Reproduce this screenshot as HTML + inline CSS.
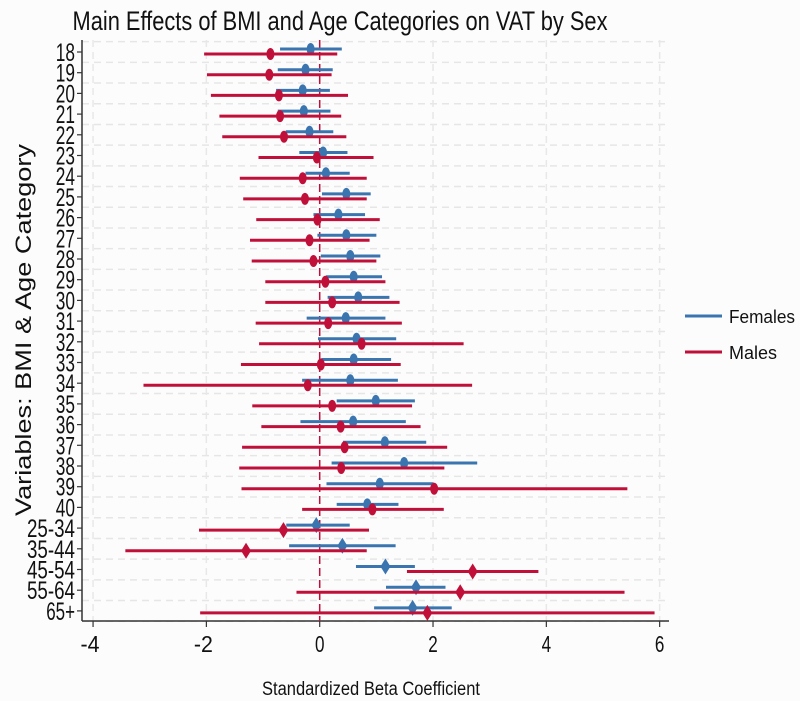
<!DOCTYPE html>
<html><head><meta charset="utf-8"><style>
body{margin:0;background:#fcfcfc;}
svg{display:block;font-family:"Liberation Sans",sans-serif;}
</style></head><body>
<svg id="chart" width="800" height="701" viewBox="0 0 800 701">
<rect x="0" y="0" width="800" height="701" fill="#fcfcfc"/>
<text x="340" y="30" font-size="27" text-anchor="middle" textLength="535" lengthAdjust="spacingAndGlyphs" fill="#111">Main Effects of BMI and Age Categories on VAT by Sex</text>
<text transform="translate(31,330) rotate(-90)" font-size="22" text-anchor="middle" textLength="372" lengthAdjust="spacingAndGlyphs" fill="#111">Variables: BMI &amp; Age Category</text>
<text x="371" y="695" font-size="19" text-anchor="middle" textLength="218" lengthAdjust="spacingAndGlyphs" fill="#111">Standardized Beta Coefficient</text>
<g id="grid"></g><g id="axes"></g><g id="marks"></g>
<g>
<line x1="685" y1="316" x2="722" y2="316" stroke="#3a75b0" stroke-width="3"/>
<text x="729" y="323" font-size="18" textLength="66" lengthAdjust="spacingAndGlyphs" fill="#111">Females</text>
<line x1="685" y1="352" x2="722" y2="352" stroke="#c0103a" stroke-width="3"/>
<text x="729" y="359" font-size="18" textLength="48" lengthAdjust="spacingAndGlyphs" fill="#111">Males</text>
</g>
</svg>
<script>
const categories = ["18","19","20","21","22","23","24","25","26","27","28","29","30","31","32","33","34","35","36","37","38","39","40","25-34","35-44","45-54","55-64","65+"];
const femaleEst = [-0.16,-0.25,-0.30,-0.28,-0.18,0.06,0.11,0.47,0.33,0.47,0.54,0.60,0.68,0.46,0.65,0.60,0.54,0.99,0.59,1.15,1.49,1.06,0.84,-0.06,0.40,1.16,1.70,1.64];
const femaleLo = [-0.70,-0.74,-0.77,-0.74,-0.60,-0.36,-0.25,0.04,-0.11,-0.04,0.02,0.11,0.14,-0.23,-0.03,0.03,-0.31,0.30,-0.34,0.41,0.21,0.12,0.30,-0.59,-0.54,0.64,1.17,0.96];
const femaleHi = [0.39,0.23,0.18,0.19,0.24,0.49,0.53,0.90,0.80,1.00,1.07,1.10,1.23,1.16,1.35,1.26,1.38,1.68,1.52,1.88,2.78,2.01,1.39,0.53,1.34,1.68,2.22,2.33];
const maleEst = [-0.87,-0.89,-0.72,-0.70,-0.63,-0.05,-0.30,-0.26,-0.04,-0.18,-0.11,0.10,0.22,0.15,0.74,0.02,-0.21,0.22,0.37,0.44,0.38,2.02,0.93,-0.64,-1.30,2.70,2.48,1.90];
const maleLo = [-2.04,-1.99,-1.92,-1.77,-1.72,-1.08,-1.41,-1.35,-1.12,-1.23,-1.20,-0.96,-0.96,-1.13,-1.07,-1.39,-3.11,-1.19,-1.03,-1.37,-1.42,-1.38,-0.31,-2.13,-3.43,1.54,-0.41,-2.11];
const maleHi = [0.31,0.21,0.50,0.38,0.47,0.95,0.83,0.83,1.06,0.88,1.00,1.16,1.41,1.45,2.54,1.43,2.69,1.63,1.78,2.25,2.20,5.43,2.19,0.87,0.83,3.86,5.38,5.91];
const isAge = [0,0,0,0,0,0,0,0,0,0,0,0,0,0,0,0,0,0,0,0,0,0,0,1,1,1,1,1];
const xTicks = [-4,-2,0,2,4,6];

const NS="http://www.w3.org/2000/svg";
const X0=319.7, UNIT=56.66, Y0=52, ROW=20.7;
const xs=v=>X0+v*UNIT;
const ys=i=>Y0+i*ROW;
const BLUE="#3a75b0", RED="#c0103a";
function mk(tag,attrs,parent){const e=document.createElementNS(NS,tag);for(const k in attrs)e.setAttribute(k,attrs[k]);parent.appendChild(e);return e;}
const gGrid=document.getElementById('grid'),gAxes=document.getElementById('axes'),gMarks=document.getElementById('marks');
const pTop=40,pBottom=621,pLeft=82,pRight=669;
for(let i=0;i<=categories.length;i++){
  const y=ys(i)-ROW/2;
  const l=mk('line',{x1:pLeft,x2:pRight,y1:y,y2:y,stroke:"#e6e6e6","stroke-width":1.5,"stroke-dasharray":"7,5"},gGrid);
  
  
}
xTicks.forEach(t=>{
  const l=mk('line',{x1:xs(t),x2:xs(t),y1:pTop,y2:pBottom,stroke:"#e8e8e8","stroke-width":1.5,"stroke-dasharray":"7,5"},gGrid);
  
  
});
let ax=mk('line',{x1:pLeft,x2:pLeft,y1:pTop,y2:pBottom,stroke:"#333","stroke-width":1.5},gAxes);


ax=mk('line',{x1:pLeft,x2:pRight,y1:pBottom,y2:pBottom,stroke:"#333","stroke-width":1.5},gAxes);


categories.forEach((c,i)=>{
  const tk=mk('line',{x1:pLeft-5,x2:pLeft,y1:ys(i),y2:ys(i),stroke:"#333","stroke-width":1.2},gAxes);
  
  
  const t=mk('text',{x:pLeft-7,y:ys(i)+9,"font-size":25,"text-anchor":"end",fill:"#111",textLength:c.length*9.6,lengthAdjust:"spacingAndGlyphs"},gAxes);
  t.textContent=c;
  
  
});
xTicks.forEach(v=>{
  const tk=mk('line',{x1:xs(v),x2:xs(v),y1:pBottom,y2:pBottom+6,stroke:"#333","stroke-width":1.2},gAxes);
  
  
  const s=String(v);
  const t=mk('text',{x:xs(v)-(v<0?3:0),y:pBottom+31,"font-size":23,"text-anchor":"middle",fill:"#111",textLength:s.length*9.5,lengthAdjust:"spacingAndGlyphs"},gAxes);
  t.textContent=s;
  
  
});
const zl=mk('line',{x1:xs(0),x2:xs(0),y1:pTop,y2:pBottom,stroke:RED,"stroke-width":1.5,"stroke-dasharray":"8,4"},gAxes);


function series(est,lo,hi,col,dy,name){
  categories.forEach((c,i)=>{
    const y=ys(i)+dy;
    const l=mk('line',{x1:xs(lo[i]),x2:xs(hi[i]),y1:y,y2:y,stroke:col,"stroke-width":3},gMarks);
    
    
    let m;
    const cx=xs(est[i]);
    if(isAge[i]){
      m=mk('polygon',{points:`${cx},${y-8} ${cx+5},${y} ${cx},${y+8} ${cx-5},${y}`,fill:col},gMarks);
    } else {
      m=mk('ellipse',{cx:cx,cy:y,rx:4,ry:6,fill:col},gMarks);
    }
    
    
  });
}
series(femaleEst,femaleLo,femaleHi,BLUE,-3,'female');
series(maleEst,maleLo,maleHi,RED,2,'male');
</script>
</body></html>
